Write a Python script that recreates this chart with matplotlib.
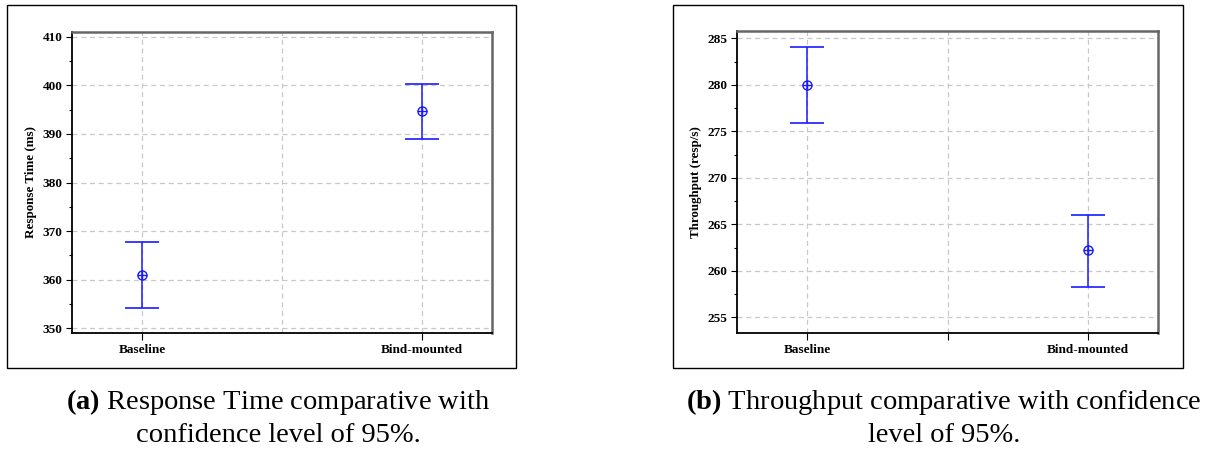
import matplotlib.pyplot as plt
from matplotlib.patches import Rectangle
import numpy as np

categories = ["Baseline", "Bind-mounted"]

# Response time (ms): mean and 95% confidence interval
rt_mean = [360.9, 394.7]
rt_low = [354.1, 389.0]
rt_high = [367.7, 400.3]

# Throughput (resp/s): mean and 95% confidence interval
tp_mean = [280.0, 262.2]
tp_low = [275.9, 258.2]
tp_high = [284.1, 266.0]

captions = [
    (r"$\bf{(a)}$ Response Time comparative with", "confidence level of 95%."),
    (r"$\bf{(b)}$ Throughput comparative with confidence", "level of 95%."),
]

plt.rcParams["font.family"] = "Liberation Serif"
plt.rcParams["mathtext.fontset"] = "custom"
plt.rcParams["mathtext.bf"] = "Liberation Serif:bold"

W, H = 1218, 450
fig = plt.figure(figsize=(W / 100, H / 100), dpi=100)
blue = "#1a1aff"


def px_axes(x0, y0, x1, y1):
    return fig.add_axes([x0 / W, 1 - y1 / H, (x1 - x0) / W, (y1 - y0) / H])


def draw_panel(ax, mean, low, high, ylim, major, minor, ylabel, mid_tick):
    x = np.arange(1, len(mean) + 1)
    mean = np.array(mean)
    err = [mean - np.array(low), np.array(high) - mean]
    ax.errorbar(x, mean, yerr=err, fmt="none", ecolor=blue, elinewidth=1.1,
                capsize=12, capthick=1.2, zorder=3)
    ax.plot(x, mean, "o", mfc="none", mec=blue, ms=6.5, mew=1.0, zorder=4)
    ax.plot(x, mean, "+", color=blue, ms=6.5, mew=1.0, zorder=4)
    ax.set_xlim(0.75, 2.25)
    ax.set_ylim(*ylim)
    ax.set_xticks([1, 1.5, 2])
    ax.set_xticklabels([categories[0], "", categories[1]], fontweight="bold", fontsize=9.5)
    start = np.ceil(ylim[0] / major) * major
    ax.set_yticks(np.arange(start, ylim[1], major))
    ax.set_yticks(np.arange(np.ceil(ylim[0] / minor) * minor, ylim[1], minor), minor=True)
    for lab in ax.get_yticklabels():
        lab.set_fontweight("bold")
        lab.set_fontsize(9.5)
    ax.tick_params(axis="both", direction="out", length=4, width=0.8, pad=3)
    ax.tick_params(axis="y", which="minor", length=2.5, width=0.8)
    ax.tick_params(axis="x", length=5)
    if not mid_tick:
        ax.get_xticklines()[2].set_visible(False)
    ax.grid(True, which="major", color="#c8c8c8", linestyle=(0, (4, 3)), linewidth=0.9)
    ax.set_ylabel(ylabel, fontweight="bold", fontsize=9.4)
    for side in ["left", "bottom"]:
        ax.spines[side].set_linewidth(1.3)
        ax.spines[side].set_color("black")
    for side in ["top", "right"]:
        ax.spines[side].set_linewidth(1.8)
        ax.spines[side].set_color("#666666")


ax1 = px_axes(72, 32, 492, 333)
draw_panel(ax1, rt_mean, rt_low, rt_high, (349, 411), 10, 5, "Response Time (ms)", False)
ax2 = px_axes(737, 31, 1158, 333)
draw_panel(ax2, tp_mean, tp_low, tp_high, (253.3, 285.8), 5, 2.5, "Throughput (resp/s)", True)

# outer frames around each panel
for x0, x1 in [(7, 516), (673, 1183)]:
    fig.patches.append(Rectangle((x0 / W, 1 - 368 / H), (x1 - x0) / W, 363 / H,
                                 transform=fig.transFigure, fill=False,
                                 edgecolor="black", linewidth=1.0))

# captions
for cx, (l1, l2) in zip([278, 944], captions):
    fig.text(cx / W, 1 - 402 / H, l1, ha="center", va="center", fontsize=20.5)
    fig.text(cx / W, 1 - 435 / H, l2, ha="center", va="center", fontsize=20.5)

fig.savefig("out.png", dpi=100)
